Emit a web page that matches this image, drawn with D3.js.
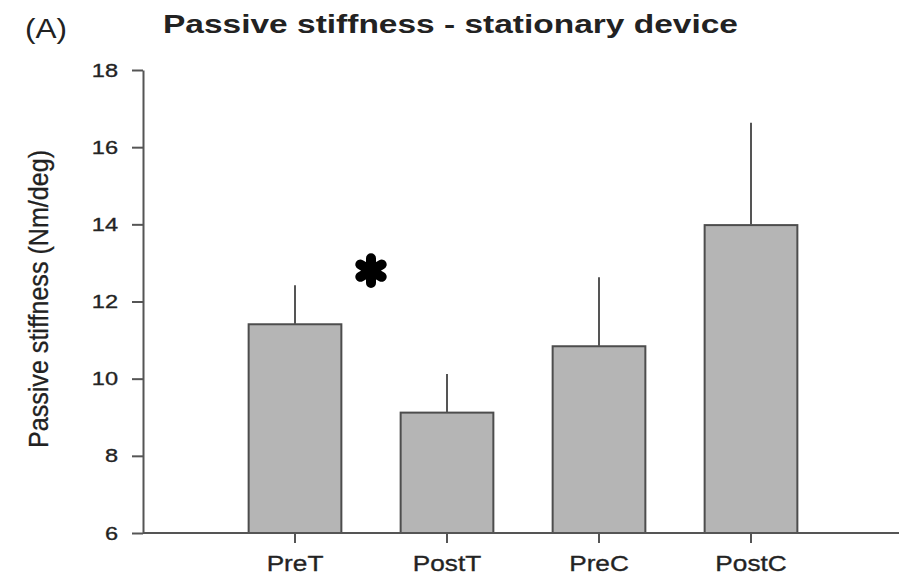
<!DOCTYPE html>
<html>
<head>
<meta charset="utf-8">
<script src="https://cdn.jsdelivr.net/npm/d3@7"></script>
<style>
  html, body { margin: 0; padding: 0; background: #fff; }
  svg { display: block; }
  text { font-family: "Liberation Sans", Arial, sans-serif; fill: #222; }
</style>
</head>
<body>
<svg id="chart" width="899" height="575"></svg>
<script>
// ---- data ----
const categories = ["PreT", "PostT", "PreC", "PostC"];
const means = [11.41, 9.12, 10.84, 13.98];
const errors = [1.01, 1.0, 1.79, 2.65];
const yTicks = [6, 8, 10, 12, 14, 16, 18];
const titleText = "Passive stiffness - stationary device";
const panelLabel = "(A)";
const yLabel = "Passive stiffness (Nm/deg)";
const sigPair = ["PreT", "PostT"];
const sigValue = 12.8;

// ---- layout ----
const W = 899, H = 575;
const axisX = 143, plotTop = 70, plotBottom = 533;
const svg = d3.select("#chart");

const y = d3.scaleLinear().domain([6, 18]).range([plotBottom, plotTop]);
const x = d3.scaleBand().domain(categories).range([219, 827])
  .paddingInner(0.39).paddingOuter(0.195);

function stretch(sel, f) {
  sel.each(function () {
    const len = this.getComputedTextLength();
    d3.select(this).attr("textLength", len * f).attr("lengthAdjust", "spacingAndGlyphs");
  });
}

// bars
svg.append("g").selectAll("rect").data(categories).join("rect")
  .attr("x", d => x(d))
  .attr("y", (d, i) => y(means[i]))
  .attr("width", x.bandwidth())
  .attr("height", (d, i) => y(6) - y(means[i]))
  .attr("fill", "#b5b5b5")
  .attr("stroke", "#4d4d4d")
  .attr("stroke-width", 2);

// error bars (upper only)
svg.append("g").selectAll("line").data(categories).join("line")
  .attr("x1", d => x(d) + x.bandwidth() / 2)
  .attr("x2", d => x(d) + x.bandwidth() / 2)
  .attr("y1", (d, i) => y(means[i]))
  .attr("y2", (d, i) => y(means[i] + errors[i]))
  .attr("stroke", "#555")
  .attr("stroke-width", 2);

// y axis
const yAxis = svg.append("g")
  .attr("transform", `translate(${axisX},0)`)
  .call(d3.axisLeft(y).tickValues(yTicks).tickSize(11).tickPadding(14).tickSizeOuter(0));
yAxis.select(".domain").attr("stroke", "#555").attr("stroke-width", 2);
yAxis.selectAll(".tick line").attr("stroke", "#555").attr("stroke-width", 2);
yAxis.selectAll(".tick text")
  .attr("font-size", 19).attr("fill", "#2a2a2a")
  .attr("stroke", "#2a2a2a").attr("stroke-width", 0.35)
  .style("font-family", '"Liberation Sans", Arial, sans-serif')
  .call(stretch, 1.24);

// x axis
const xAxis = svg.append("g")
  .attr("transform", `translate(0,${plotBottom})`)
  .call(d3.axisBottom(x).tickSize(10).tickPadding(12).tickSizeOuter(0));
xAxis.select(".domain").remove();
xAxis.append("line")
  .attr("x1", axisX).attr("x2", W).attr("y1", 0).attr("y2", 0)
  .attr("stroke", "#555").attr("stroke-width", 2);
xAxis.selectAll(".tick line").attr("stroke", "#555").attr("stroke-width", 2);
xAxis.selectAll(".tick text")
  .attr("font-size", 22).attr("fill", "#2a2a2a").attr("dy", "0.71em")
  .attr("stroke", "#2a2a2a").attr("stroke-width", 0.35)
  .style("font-family", '"Liberation Sans", Arial, sans-serif')
  .call(stretch, 1.19);

// significance asterisk
const sx = (x(sigPair[0]) + x(sigPair[1]) + x.bandwidth()) / 2;
svg.append("path")
  .attr("d", d3.symbol().type(d3.symbolAsterisk).size(430)())
  .attr("transform", `translate(${sx},${y(sigValue)})`)
  .attr("fill", "none")
  .attr("stroke", "#000")
  .attr("stroke-width", 10)
  .attr("stroke-linecap", "round");

// title
svg.append("text")
  .attr("x", 163).attr("y", 33)
  .attr("font-size", 25).attr("font-weight", "bold").attr("fill", "#1e1e1e")
  .text(titleText)
  .attr("textLength", 575).attr("lengthAdjust", "spacingAndGlyphs");

// panel label
svg.append("text")
  .attr("x", 25).attr("y", 38)
  .attr("font-size", 28).attr("fill", "#1e1e1e")
  .text(panelLabel)
  .attr("textLength", 42).attr("lengthAdjust", "spacingAndGlyphs");

// y label
svg.append("text")
  .attr("transform", `translate(48,299) rotate(-90)`)
  .attr("text-anchor", "middle")
  .attr("font-size", 28).attr("fill", "#1e1e1e")
  .attr("stroke", "#1e1e1e").attr("stroke-width", 0.3)
  .text(yLabel)
  .attr("textLength", 298).attr("lengthAdjust", "spacingAndGlyphs");
</script>
</body>
</html>
